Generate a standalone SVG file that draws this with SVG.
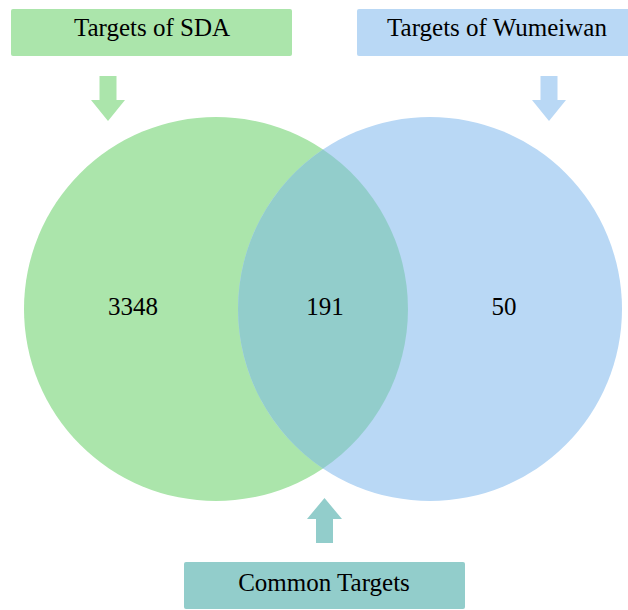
<svg xmlns="http://www.w3.org/2000/svg" width="628" height="610" viewBox="0 0 628 610">
<style>
.lbl{font-family:'Liberation Serif','Times New Roman','DejaVu Serif',serif;font-size:25px;fill:#000;text-anchor:middle}
.g{fill:#ABE5AB}.b{fill:#B9D8F5}.t{fill:#92CDCB}
</style>
<rect width="628" height="610" fill="#fff"/>
<g id="venn">
<circle id="set-sda" class="g" cx="216" cy="309" r="192"/>
<circle id="set-wumeiwan" class="b" cx="430" cy="309" r="192"/>
<path id="set-common" class="t" d="M323 149.6A192 192 0 0 1 323 468.4A192 192 0 0 1 323 149.6Z"/>
<text class="lbl" font-family="Liberation Serif, serif" x="133" y="315">3348</text>
<text class="lbl" font-family="Liberation Serif, serif" x="325" y="315">191</text>
<text class="lbl" font-family="Liberation Serif, serif" x="504" y="315">50</text>
</g>
<g id="label-sda">
<rect class="g" x="11" y="9" width="281" height="47" rx="2"/>
<text class="lbl" font-family="Liberation Serif, serif" x="152" y="36">Targets of SDA</text>
</g>
<g id="label-wumeiwan">
<rect class="b" x="357" y="9" width="290" height="47" rx="2"/>
<text class="lbl" font-family="Liberation Serif, serif" x="497" y="36">Targets of Wumeiwan</text>
</g>
<g id="label-common">
<rect class="t" x="184" y="562" width="281" height="47" rx="2"/>
<text class="lbl" font-family="Liberation Serif, serif" x="324" y="591">Common Targets</text>
</g>
<g id="connectors">
<polygon class="g" points="99.5,76 116.5,76 116.5,100 125,100 108,121 91,100 99.5,100"/>
<polygon class="b" points="540.5,76 557.5,76 557.5,100 566,100 549,121 532,100 540.5,100"/>
<polygon class="t" points="316,543 333,543 333,519 342,519 324.5,498 307,519 316,519"/>
</g>
</svg>
